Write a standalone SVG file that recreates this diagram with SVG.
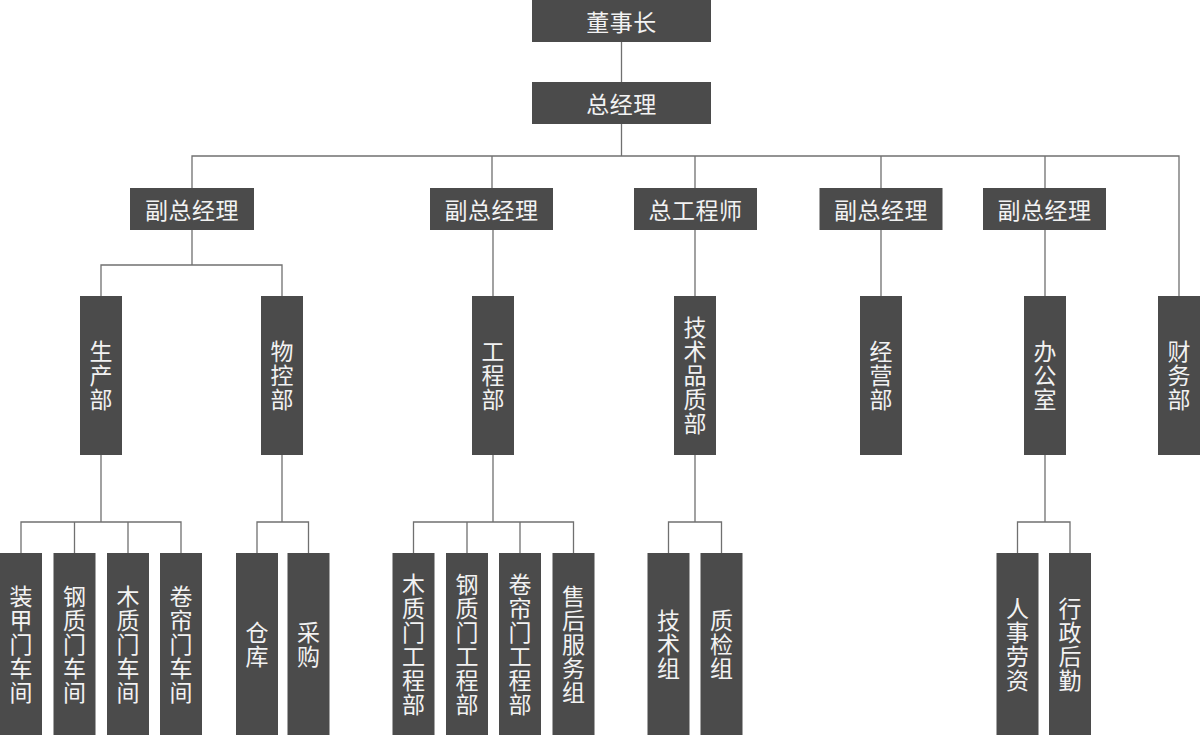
<svg xmlns="http://www.w3.org/2000/svg" width="1200" height="735" viewBox="0 0 1200 735">
<style>
.box{fill:#4b4b4b;}
.t{fill:#f2f2f2;font-family:"Noto Sans CJK SC","Noto Sans",sans-serif;font-size:23px;text-anchor:middle;dominant-baseline:central;letter-spacing:0.5px;}
.v{fill:#f2f2f2;font-family:"Noto Sans CJK SC","Noto Sans",sans-serif;font-size:23px;text-anchor:middle;writing-mode:vertical-rl;text-orientation:upright;letter-spacing:1px;}
.c{fill:none;stroke:#707070;stroke-width:1.3;}
</style>
<rect width="1200" height="735" fill="#ffffff"/>
<g id="connectors" class="c">
<path d="M621.5,42V82M621.5,124V156"/>
<path d="M192,188V156H1179V296"/>
<path d="M492,156V188M695,156V188M881,156V188M1045,156V188"/>
<path d="M192,230V265M101,296V265H282V296"/>
<path d="M493,230V296M695,230V296M881,230V296M1045,230V296"/>
<path d="M101,455V522M21,553V522H181V553M74.5,522V553M128,522V553"/>
<path d="M282,455V522M257,553V522H308.5V553"/>
<path d="M493,455V522M413.5,553V522H573.5V553M467,522V553M520,522V553"/>
<path d="M695,455V522M668.5,553V522H721.5V553"/>
<path d="M1045,455V522M1017.5,553V522H1070V553"/>
</g>
<g id="n-dongshizhang"><rect class="box" x="532" y="0" width="179" height="42"/><text class="t" x="621.5" y="21">董事长</text></g>
<g id="n-zongjingli"><rect class="box" x="532" y="82" width="179" height="42"/><text class="t" x="621.5" y="103">总经理</text></g>
<g id="n-fuzong1"><rect class="box" x="130" y="188" width="124" height="42"/><text class="t" x="192" y="209">副总经理</text></g>
<g id="n-fuzong2"><rect class="box" x="430" y="188" width="123" height="42"/><text class="t" x="491.5" y="209">副总经理</text></g>
<g id="n-zonggongchengshi"><rect class="box" x="634" y="188" width="123" height="42"/><text class="t" x="695.5" y="209">总工程师</text></g>
<g id="n-fuzong3"><rect class="box" x="819.5" y="188" width="123" height="42"/><text class="t" x="881" y="209">副总经理</text></g>
<g id="n-fuzong4"><rect class="box" x="983" y="188" width="123" height="42"/><text class="t" x="1044.5" y="209">副总经理</text></g>

<g id="n-shengchanbu"><rect class="box" x="80" y="296" width="42" height="159"/><text class="v" x="101" y="376">生产部</text></g>
<g id="n-wukongbu"><rect class="box" x="261" y="296" width="42" height="159"/><text class="v" x="282" y="376">物控部</text></g>
<g id="n-gongchengbu"><rect class="box" x="472" y="296" width="42" height="159"/><text class="v" x="493" y="376">工程部</text></g>
<g id="n-jishupinzhibu"><rect class="box" x="674" y="296" width="42" height="159"/><text class="v" x="695" y="376">技术品质部</text></g>
<g id="n-jingyingbu"><rect class="box" x="860" y="296" width="42" height="159"/><text class="v" x="881" y="376">经营部</text></g>
<g id="n-bangongshi"><rect class="box" x="1024" y="296" width="42" height="159"/><text class="v" x="1045" y="376">办公室</text></g>
<g id="n-caiwubu"><rect class="box" x="1158" y="296" width="42" height="159"/><text class="v" x="1179" y="376">财务部</text></g>

<g id="n-zhuangjia"><rect class="box" x="0" y="553" width="42" height="182"/><text class="v" x="21" y="644.5">装甲门车间</text></g>
<g id="n-gangzhi-cj"><rect class="box" x="53.5" y="553" width="42" height="182"/><text class="v" x="74.5" y="644.5">钢质门车间</text></g>
<g id="n-muzhi-cj"><rect class="box" x="107" y="553" width="42" height="182"/><text class="v" x="128" y="644.5">木质门车间</text></g>
<g id="n-juanlian-cj"><rect class="box" x="160" y="553" width="42" height="182"/><text class="v" x="181" y="644.5">卷帘门车间</text></g>
<g id="n-cangku"><rect class="box" x="236" y="553" width="42" height="182"/><text class="v" x="257" y="644.5">仓库</text></g>
<g id="n-caigou"><rect class="box" x="287.5" y="553" width="42" height="182"/><text class="v" x="308.5" y="644.5">采购</text></g>

<g id="n-muzhi-gc"><rect class="box" x="392.5" y="553" width="42" height="182"/><text class="v" x="413.5" y="644.5">木质门工程部</text></g>
<g id="n-gangzhi-gc"><rect class="box" x="446" y="553" width="42" height="182"/><text class="v" x="467" y="644.5">钢质门工程部</text></g>
<g id="n-juanlian-gc"><rect class="box" x="499" y="553" width="42" height="182"/><text class="v" x="520" y="644.5">卷帘门工程部</text></g>
<g id="n-shouhou"><rect class="box" x="552.5" y="553" width="42" height="182"/><text class="v" x="573.5" y="644.5">售后服务组</text></g>

<g id="n-jishuzu"><rect class="box" x="647.5" y="553" width="42" height="182"/><text class="v" x="668.5" y="644.5">技术组</text></g>
<g id="n-zhijianzu"><rect class="box" x="700.5" y="553" width="42" height="182"/><text class="v" x="721.5" y="644.5">质检组</text></g>

<g id="n-renshi"><rect class="box" x="996.5" y="553" width="42" height="182"/><text class="v" x="1017.5" y="644.5">人事劳资</text></g>
<g id="n-xingzheng"><rect class="box" x="1049" y="553" width="42" height="182"/><text class="v" x="1070" y="644.5">行政后勤</text></g>
</svg>
